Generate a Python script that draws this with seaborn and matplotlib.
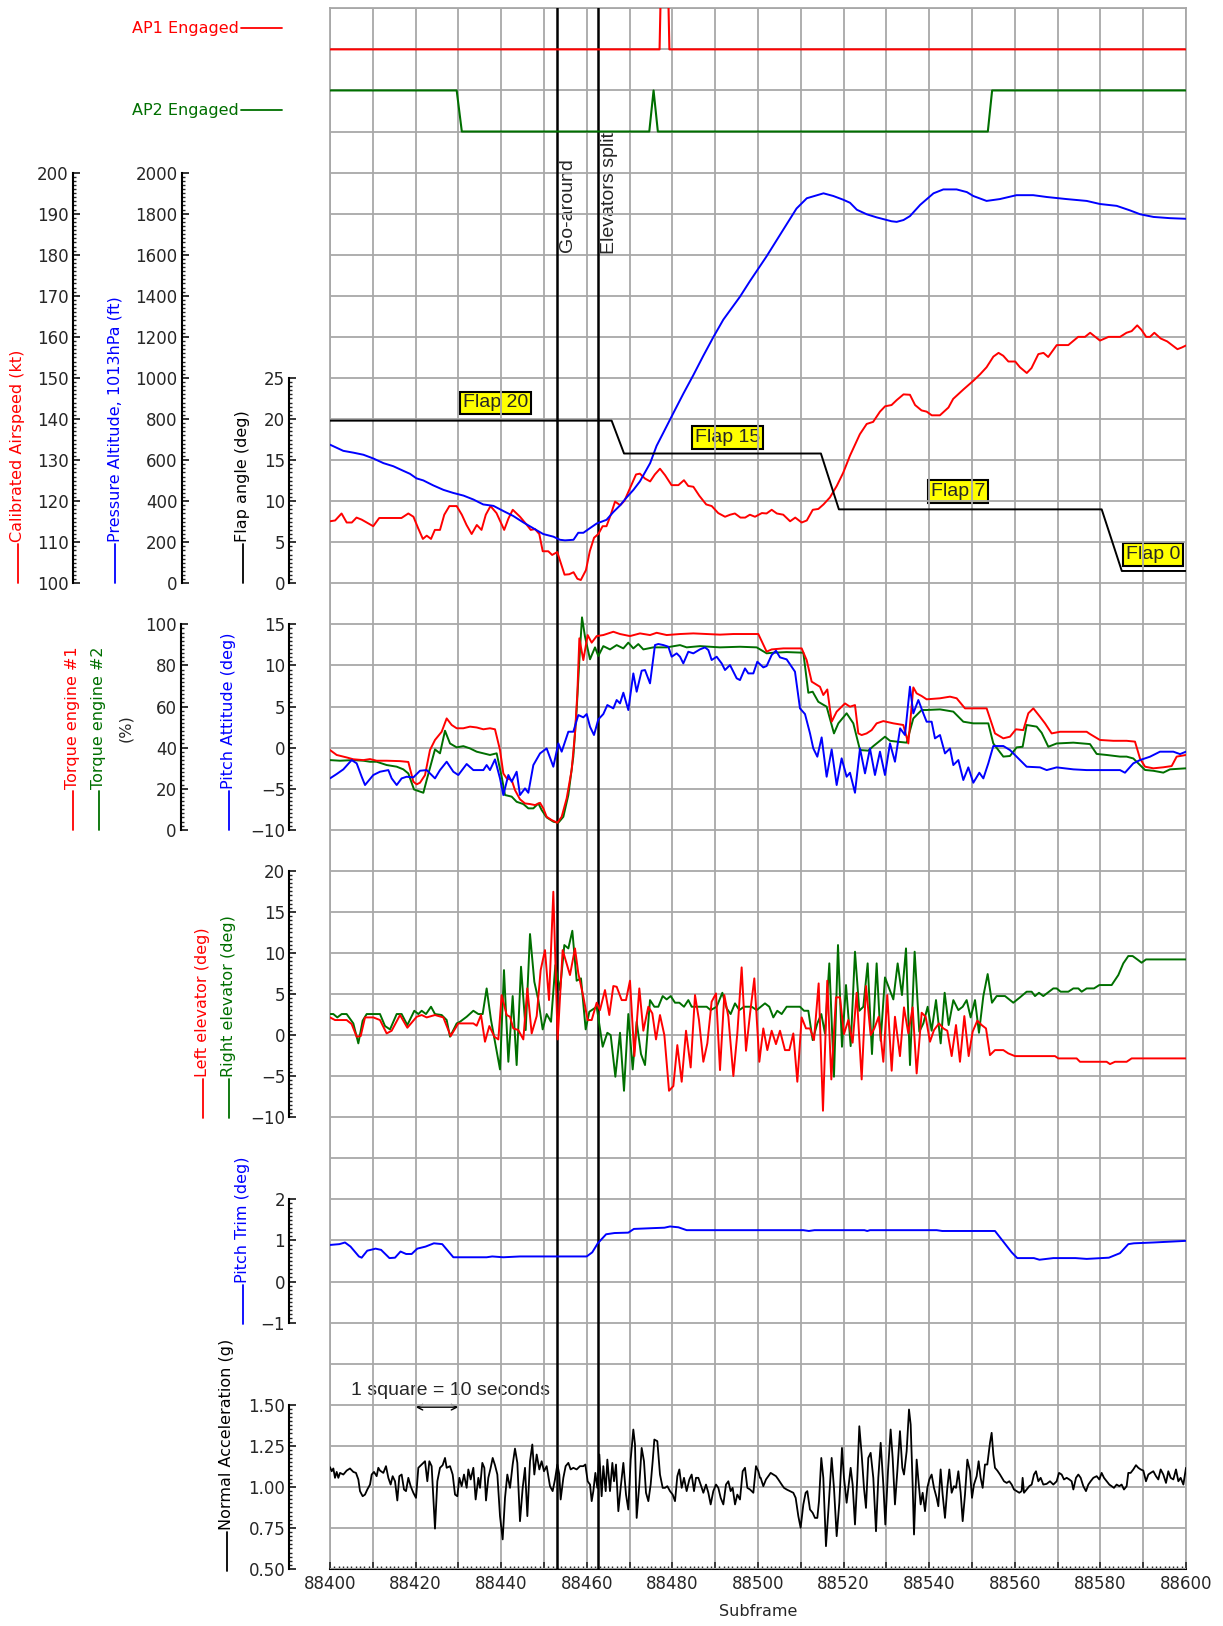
import numpy as np
import matplotlib
matplotlib.use("Agg")
import matplotlib.pyplot as plt
import seaborn as sns
from matplotlib.lines import Line2D
from matplotlib.ticker import FixedLocator, FuncFormatter, MultipleLocator

T0 = 88400  # first subframe on the x axis, offsets below are from here

# autopilot discretes
ap1_off = [0, 77.0, 77.3, 79.0, 79.3, 200]
ap1_val = [0, 0, 1, 1, 0, 0]
ap2_off = [0, 29.6, 30.8, 74.6, 75.6, 76.6, 153.7, 154.7, 200]
ap2_val = [1, 1, 0, 0, 1, 0, 0, 1, 1]

# calibrated airspeed (kt)
cas_off = [0.0, 1.2, 2.7, 3.9, 5.1, 6.2, 7.4, 8.6, 10.1, 11.5, 13.2, 16.7, 18.3, 19.5, 20.6, 21.7,
           22.6, 23.6, 24.5, 25.7, 26.7, 27.9, 29.6, 30.8, 31.9, 33.1, 34.3, 35.4, 36.4, 37.5, 38.9,
           40.7, 41.7, 42.7, 44.4, 46.0, 46.9, 47.9, 48.9, 49.7, 51.0, 51.9, 53.1, 53.9, 54.8, 55.9,
           56.9, 57.8, 58.6, 59.8, 60.7, 61.7, 62.7, 63.7, 64.6, 65.6, 66.6, 67.8, 68.8, 70.1, 71.5,
           72.4, 73.6, 74.8, 75.9, 77.1, 78.3, 79.8, 81.4, 82.7, 83.7, 84.9, 86.3, 87.9, 89.2, 90.7,
           92.3, 93.5, 94.6, 95.9, 97.0, 98.1, 99.3, 100.9, 102.0, 103.2, 104.4, 105.9, 107.5, 108.7,
           110.2, 111.4, 112.8, 114.1, 115.3, 116.8, 118.4, 119.9, 121.5, 123.8, 125.4, 126.9, 128.5,
           129.7, 131.2, 132.4, 134.0, 135.5, 136.7, 138.2, 139.4, 140.6, 142.5, 144.5, 145.6, 148.0,
           150.3, 151.9, 153.4, 155.0, 156.2, 157.3, 158.5, 160.1, 161.2, 162.8, 163.9, 165.5, 166.7,
           167.8, 169.8, 172.5, 174.8, 176.4, 177.6, 179.9, 181.9, 184.6, 186.1, 187.3, 188.6, 189.6,
           190.7, 191.6, 192.6, 194.1, 195.6, 198.0, 199.0, 200.0]
cas_val = [115.1, 115.3, 117.0, 114.8, 114.8, 116.0, 115.5, 114.8, 113.9, 115.9, 115.9, 115.9, 117.0,
           116.2, 113.4, 110.8, 111.6, 110.8, 113.0, 113.0, 116.7, 118.8, 118.8, 116.7, 114.2, 112.0,
           114.2, 113.0, 116.7, 118.8, 117.1, 113.0, 115.8, 117.9, 116.2, 114.2, 113.0, 113.2, 112.0,
           107.8, 107.8, 106.9, 107.6, 105.0, 102.1, 102.2, 102.7, 101.1, 100.8, 103.2, 107.8, 111.1,
           112.0, 113.9, 113.9, 116.7, 119.9, 119.0, 120.1, 123.2, 126.5, 126.7, 125.5, 124.8, 126.5,
           127.9, 126.3, 123.9, 123.9, 125.1, 123.7, 123.5, 121.3, 119.2, 118.8, 117.1, 116.2, 116.7,
           117.0, 116.0, 116.0, 116.7, 116.2, 117.1, 117.0, 117.9, 117.0, 116.7, 115.1, 116.0, 114.8,
           115.3, 117.9, 118.1, 119.2, 120.9, 123.7, 126.9, 131.1, 136.3, 138.8, 139.3, 141.8, 143.1,
           143.4, 144.6, 146.0, 145.9, 143.4, 142.1, 141.8, 140.9, 140.9, 142.8, 144.9, 147.2, 149.3,
           150.9, 152.6, 155.2, 156.1, 155.4, 154.0, 154.0, 152.6, 151.2, 152.4, 155.8, 156.1, 155.1,
           158.0, 158.0, 160.0, 160.0, 161.0, 159.1, 160.0, 160.0, 161.0, 161.4, 162.8, 161.7, 160.0,
           160.0, 161.0, 159.6, 158.9, 157.0, 157.4, 157.9]

# pressure altitude (ft)
alt_off = [0.0, 3.1, 5.5, 7.8, 10.1, 12.5, 14.8, 17.1, 18.7, 20.2, 21.8, 24.1, 26.5, 28.8, 31.2, 33.5,
           35.8, 38.2, 40.5, 42.8, 45.2, 47.5, 49.8, 52.2, 53.7, 54.9, 56.9, 58.0, 59.2, 60.7, 62.3,
           64.6, 66.2, 67.8, 69.3, 70.9, 72.4, 74.8, 76.3, 77.9, 80.2, 82.6, 84.9, 87.2, 89.6, 91.9,
           94.2, 95.8, 98.1, 102.0, 105.9, 109.0, 111.4, 115.3, 117.6, 119.9, 121.5, 123.1, 125.4,
           127.7, 130.1, 131.2, 132.4, 134.0, 135.5, 137.9, 141.0, 143.3, 146.4, 148.8, 150.3, 153.4,
           156.5, 160.4, 164.3, 167.5, 172.1, 176.8, 179.9, 183.8, 186.9, 189.3, 192.4, 196.3, 200.0]
alt_val = [675, 645, 636, 626, 608, 585, 570, 548, 533, 511, 501, 477, 455, 440, 427, 408, 384, 377,
           352, 328, 296, 268, 240, 227, 212, 209, 212, 246, 246, 268, 291, 309, 347, 380, 418, 455,
           496, 585, 669, 734, 828, 925, 1014, 1107, 1200, 1284, 1350, 1396, 1471, 1592, 1722, 1825,
           1875, 1899, 1886, 1868, 1853, 1819, 1797, 1782, 1769, 1763, 1760, 1769, 1788, 1843, 1899,
           1918, 1918, 1905, 1886, 1862, 1871, 1890, 1890, 1881, 1871, 1862, 1847, 1838, 1816, 1797,
           1784, 1778, 1775]

# flap angle (deg)
flap_off = [0, 65.8, 68.7, 114.7, 118.9, 180.3, 185.0, 200]
flap_val = [19.8, 19.8, 15.8, 15.8, 9.0, 9.0, 1.5, 1.5]
flap_tags = ["Flap 20", "Flap 15", "Flap 7", "Flap 0"]
flap_tag_off = [38.7, 92.8, 146.7, 192.3]
flap_tag_val = [21.95, 17.7, 11.14, 3.55]

# torque engine #1 (%)
tq1_off = [0, 1.56, 3.89, 5.45, 7.79, 9.35, 10.9, 13.24, 16.36, 18.3, 19.47, 20.25, 21.03, 22.2, 23.36,
           24.53, 26.09, 27.26, 28.43, 29.6, 31.15, 32.71, 34.27, 35.83, 37.38, 38.55, 39.72, 40.5,
           41.28, 42.45, 43.22, 44.39, 45.56, 46.73, 47.9, 49.07, 49.84, 50.62, 51.79, 53.12, 54.13,
           55.3, 56.46, 57.24, 57.79, 58.26, 59.19, 60.2, 61.14, 62.31, 63.86, 66.2, 67.76, 70.09,
           72.43, 74.77, 76.32, 78.66, 81.78, 84.89, 88.01, 91.12, 94.24, 97.35,
           100.07, 102.02, 103.19, 105.92, 110.2, 111.37, 112.54, 114.48, 115.26, 116.19, 117.21,
           118.38, 120.32, 121.49, 122.66, 123.44, 124.22, 125.38, 126.55, 127.72, 129.28, 131.62,
           133.95, 135.12, 136.29, 137.07, 138.24, 139.4, 142.52, 144.86, 146.42, 148.36, 151.87,
           153.42, 155.37, 157.32, 158.87, 160.27, 161.99, 163.16, 164.33, 165.89, 167.06, 168.61,
           170.56, 173.68, 176.79, 177.57, 179.9, 183.02, 186.13, 188.08, 189.25, 190.42, 192.37,
           194.7, 196.65, 197.82, 200.0]
tq1_val = [38.8, 36.4, 35.2, 34.3, 33.9, 34.4, 33.6, 33.6, 33.4, 33.0, 23.4, 22.1, 22.9, 26.6, 38.8,
           43.7, 47.7, 54.2, 51.0, 49.4, 49.4, 50.2, 49.8, 48.9, 49.4, 48.9, 38.8, 27.4, 25.0, 24.2,
           19.3, 14.8, 12.8, 12.5, 12.0, 13.1, 10.4, 6.3, 4.7, 3.4, 6.3, 15.3, 29.1, 46.9, 66.4, 93.2,
           82.6, 94.8, 91.1, 94.3, 94.8, 96.4, 95.3, 94.3, 95.6, 94.8, 95.9, 94.8, 95.3, 95.6, 95.3,
           95.0, 95.3, 95.3,
           95.3, 86.7, 87.8, 88.3, 88.3, 82.6, 72.1, 69.6, 65.6, 68.3, 52.6, 57.5, 61.5, 59.9, 60.7,
           46.9, 46.1, 46.9, 48.5, 51.8, 52.9, 51.8, 51.0, 42.0, 69.3, 66.4, 65.1, 63.5, 64.0, 64.8,
           64.0, 59.1, 59.1, 59.1, 46.9, 44.5, 45.3, 48.9, 48.5, 56.7, 59.1, 55.0, 51.8, 46.9, 47.7,
           47.7, 47.7, 46.6, 43.7, 43.3, 43.3, 42.9, 34.7, 30.7, 29.9, 30.4, 31.0, 35.6, 36.4]

# torque engine #2 (%)
tq2_off = [0, 2.34, 5.45, 7.79, 9.35, 10.9, 13.24, 15.58, 17.13, 18.3, 19.63, 21.81, 22.59, 24.53,
           25.7, 26.87, 28.04, 29.6, 31.15, 32.71, 34.27, 35.83, 37.38, 38.94, 40.11, 40.89, 42.45,
           43.61, 45.17, 46.34, 47.51, 48.68, 49.45, 50.62, 52.18, 53.35, 54.52, 55.69, 56.85, 57.63,
           58.26, 58.88, 59.58, 60.75, 61.92, 62.69, 63.86, 65.42, 66.98, 68.54, 69.7, 70.87, 72.04,
           73.21, 75.55, 78.66, 81.78, 83.33, 86.45, 91.12, 95.79,
           99.69, 102.02, 103.58, 106.69, 110.59, 111.76, 112.77, 114.09, 116.04, 117.75, 118.77,
           120.71, 122.27, 123.83, 125.77, 126.94, 129.67, 130.84, 132.4, 134.73, 136.29, 138.24,
           139.4, 142.52, 145.64, 147.97, 150.31, 153.81, 154.98, 157.32, 158.87, 160.43, 161.83,
           162.77, 165.11, 166.28, 167.83, 169.78, 173.68, 177.57, 179.13, 181.46, 184.58, 186.13,
           187.69, 189.25, 190.42, 192.37, 194.7, 196.26, 200.0]
tq2_val = [33.9, 33.6, 33.9, 33.6, 33.1, 33.1, 31.5, 30.7, 29.4, 27.4, 19.6, 18.0, 24.2, 39.1, 37.2,
           48.2, 42.0, 40.1, 40.7, 39.6, 38.0, 37.2, 36.4, 37.2, 25.8, 16.9, 16.1, 13.6, 12.5, 10.4,
           10.4, 12.8, 9.6, 6.0, 3.9, 3.4, 6.3, 16.9, 35.6, 58.3, 82.6, 103.4, 94.0, 83.0, 88.8, 84.6,
           89.4, 87.8, 89.9, 88.3, 91.1, 88.3, 90.4, 87.8, 88.8, 88.8, 89.9, 88.8, 89.4, 88.8, 89.1,
           88.8, 85.9, 86.2, 86.5, 86.2, 66.7, 67.2, 62.3, 59.9, 46.9, 51.8, 56.7, 51.8, 38.8, 38.5,
           40.7, 45.3, 43.3, 42.9, 42.4, 54.2, 58.3, 58.3, 58.6, 57.5, 52.6, 51.8, 51.8, 42.0, 35.6,
           35.9, 40.1, 40.4, 51.0, 50.2, 47.2, 40.4, 42.0, 42.4, 41.7, 36.9, 36.4, 35.6, 35.6, 34.7,
           31.5, 29.1, 28.7, 27.8, 29.4, 29.9]

# pitch attitude (deg)
pitch_off = [0, 1.56, 3.12, 5.06, 6.23, 7.40, 8.18, 10.12, 11.68, 13.63, 14.41, 15.58, 16.74, 17.91,
             19.47, 21.03, 22.59, 24.53, 25.70, 27.26, 28.82, 29.98, 31.93, 33.49, 35.83, 36.60, 37.38,
             38.55, 39.72, 40.50, 41.67, 42.45, 43.61, 44.39, 45.56, 46.34, 47.51, 49.07, 50.62, 52.18,
             53.35, 54.13, 55.69, 56.85, 58.02, 59.19, 59.97, 60.75, 61.68, 62.69, 63.86, 64.80, 66.20,
             66.98, 67.76, 68.54, 69.70, 70.87, 71.65, 72.82, 73.60, 74.77, 75.93, 76.71, 77.88, 79.05,
             79.83, 81.00, 81.78, 82.55, 83.72, 84.89, 86.45, 87.62, 88.40, 89.17, 90.34, 91.51, 92.29,
             93.46, 95.02, 95.79, 96.96, 97.74, 98.91, 99.84,
             101.24, 102.02, 103.19, 104.20, 105.14, 106.69, 107.86, 108.64, 109.81, 110.98, 112.15,
             112.92, 113.86, 114.87, 116.04, 117.21, 118.38, 119.54, 120.71, 121.49, 122.66, 123.83,
             125.00, 126.16, 127.33, 128.50, 129.67, 130.84, 132.00, 133.20, 134.34, 135.50, 136.29,
             137.46, 138.63, 139.40, 140.57, 141.35, 142.52, 143.69, 144.86, 145.64, 146.81, 147.97,
             149.14, 150.31, 151.71, 152.65, 153.81, 154.98, 157.32, 158.87, 160.43, 162.77, 165.89,
             167.45, 169.78, 173.68, 176.79, 181.46, 184.58, 185.74, 187.69, 189.25, 191.59, 193.92,
             197.04, 198.60, 200.0]
pitch_val = [-3.75, -3.22, -2.65, -1.52, -1.92, -3.55, -4.56, -3.34, -2.94, -2.74, -3.75, -4.56,
             -3.75, -3.55, -3.63, -2.82, -2.74, -3.75, -2.74, -1.72, -2.94, -3.34, -2.00, -2.74,
             -2.74, -2.13, -2.74, -1.44, -3.75, -5.78, -3.34, -4.16, -2.94, -5.78, -4.97, -5.50,
             -2.13, -0.71, -0.10, -2.33, 0.51, -0.50, 1.93, 1.93, 3.96, 3.68, 4.08, 2.54, 1.53, 3.43,
             4.08, 5.18, 4.77, 5.79, 5.38, 6.68, 4.57, 9.03, 6.80, 9.36, 9.44, 7.82, 12.48, 12.61,
             12.48, 12.28, 11.06, 11.47, 11.06, 10.25, 11.67, 11.47, 11.96, 12.20, 11.87, 10.66,
             11.06, 10.25, 9.44, 10.05, 8.43, 8.22, 9.64, 9.03, 9.03, 10.45,
             9.76, 9.93, 11.27, 11.79, 10.98, 10.74, 9.85, 9.24, 4.77, 4.08, 1.73, -0.10, -1.11, 1.24,
             -3.55, -0.22, -4.56, -1.31, -3.55, -3.06, -5.50, -0.10, -3.14, -0.10, -3.34, -0.50,
             -3.34, 0.51, -1.72, 2.34, 1.53, 7.41, 4.16, 5.79, 4.16, 3.15, 3.15, 1.12, 1.53, -0.71,
             -0.10, -2.13, -1.52, -3.95, -2.41, -4.28, -3.06, -3.75, -1.92, 0.19, 0.19, -0.30, -1.11,
             -2.33, -2.41, -2.74, -2.41, -2.65, -2.74, -2.74, -2.74, -3.06, -1.92, -1.52, -1.11,
             -0.50, -0.50, -0.79, -0.50]

# left elevator (deg)
lelev_off = [0, 1.17, 3.89, 5.06, 6.23, 7.17, 8.18, 10.12, 11.68, 13.24, 14.41, 16.36, 18.07, 20.25,
             21.42, 22.59, 24.53, 26.48, 28.19, 29.98, 33.49, 34.27, 35.28, 36.21, 37.23, 38.40, 39.33,
             40.11, 41.28, 42.06, 42.83, 44.00, 45.17, 46.11, 47.12, 48.29, 49.22, 50.23, 51.17, 52.18,
             53.19, 54.36, 56.07, 57.24, 58.02, 59.19, 60.20, 61.14, 62.31, 63.08, 64.25, 65.26, 66.20,
             66.98, 68.15, 69.16, 70.09, 71.11, 72.27, 73.21, 74.38, 75.31, 76.17, 77.10, 78.12, 79.21,
             80.22, 81.15, 82.17, 83.18, 84.27, 85.28, 86.21, 87.23, 88.16, 89.17, 90.19, 91.12, 92.13,
             93.07, 94.24, 95.17, 96.18, 97.20, 98.13, 99.14, 100.31,
             101.24, 102.18, 103.19, 104.20, 105.14, 106.30, 107.32, 108.25, 109.19, 110.20, 111.21,
             112.15, 113.08, 114.17, 115.18, 116.19, 117.13, 118.22, 119.15, 120.09, 121.10, 122.11,
             123.05, 124.22, 125.23, 126.32, 127.18, 128.19, 129.28, 130.21, 131.23, 132.00, 133.17,
             134.11, 135.12, 136.13, 137.07, 138.24, 139.17, 140.18, 141.12, 142.29, 143.30, 144.23,
             145.25, 146.26, 147.19, 148.21, 149.22, 150.15, 151.24, 152.26, 153.27, 154.20, 155.37,
             157.32, 158.48, 160.04, 169.39, 170.17, 174.45, 175.23, 181.46, 182.24, 183.41, 186.13,
             187.30, 200.0]
lelev_val = [2.15, 1.83, 1.83, 1.34, -0.20, -0.12, 2.15, 2.15, 1.83, 0.20, 0.53, 2.44, 0.89, 2.23,
             2.44, 2.15, 2.44, 2.15, -0.12, 1.42, 1.42, 1.14, 2.44, -0.81, 1.10, -0.20, -0.53, 4.87,
             2.44, 2.23, 0.81, 0.61, -0.53, 5.68, 0.20, 2.31, 7.91, 10.35, 4.26, 17.45, -0.53, 10.35,
             7.31, 10.55, 7.51, 4.67, 1.83, 1.83, 3.94, 3.04, 5.48, 2.44, 5.97, 5.88, 4.26, 4.26, 6.62,
             -2.56, 5.68, 0.53, 3.45, 2.64, -0.53, 2.44, 0.00, -6.78, -6.21, -1.22, -5.68, 0.53,
             -3.94, 4.87, 1.83, -3.25, -1.01, 4.06, 5.07, -4.26, 4.87, 2.23, -4.99, 0.20, 8.24, -1.91,
             2.56, 6.90, -3.25,
             0.81, -1.83, 0.53, -1.10, 0.53, -1.83, -1.83, 0.20, -5.68, 2.15, 0.81, 0.81, -0.61,
             6.29, -9.21, 6.62, -5.40, 4.59, 4.59, 0.12, 1.83, -0.93, 5.15, -5.40, 5.97, 0.00, 0.81,
             2.23, -3.25, 4.87, -4.34, 2.23, -2.56, 3.37, 0.20, 3.37, -4.67, 2.72, 2.23, -0.81, 0.61,
             1.42, 0.81, 0.53, -2.56, 1.22, -3.25, 2.31, -2.56, 0.41, 1.75, 1.22, 0.81, -2.44, -1.83,
             -1.83, -2.23, -2.56, -2.56, -2.84, -2.84, -3.25, -3.25, -3.53, -3.25, -3.25, -2.84, -2.84]

# right elevator (deg)
relev_off = [0, 0.78, 1.71, 2.73, 3.89, 5.45, 6.62, 7.63, 8.57, 11.68, 12.85, 14.02, 15.58, 16.74,
             18.07, 19.70, 20.64, 21.42, 22.43, 23.60, 24.53, 26.09, 27.26, 28.04, 29.60, 30.37, 31.93,
             33.49, 34.66, 35.67, 36.60, 37.62, 38.55, 39.72, 40.65, 41.67, 42.68, 43.61, 44.63, 45.72,
             46.73, 47.74, 48.68, 49.69, 50.62, 51.64, 52.65, 53.74, 54.75, 55.69, 56.62, 57.63, 58.64,
             59.74, 60.59, 62.31, 63.71, 64.80, 65.58, 66.67, 67.76, 68.69, 69.70, 70.72, 71.65, 72.66,
             73.60, 74.77, 75.78, 76.71, 77.73, 78.66, 79.60, 80.61, 81.62, 82.71, 83.72, 84.50, 85.67,
             88.01, 88.94, 90.34, 91.67, 92.68, 93.61, 94.63, 95.64, 96.73,
             98.52, 99.69, 101.63, 102.64, 103.58, 104.51, 105.53, 106.69, 109.81, 110.75, 111.76,
             112.77, 113.86, 114.79, 115.65, 116.66, 117.75, 118.69, 119.62, 120.56, 121.65, 122.66,
             123.67, 124.61, 125.62, 126.63, 127.72, 128.66, 129.67, 131.62, 132.63, 133.64, 134.58,
             135.51, 136.60, 137.69, 138.63, 139.64, 140.57, 141.59, 142.68, 143.61, 144.55, 145.64,
             146.81, 147.82, 148.75, 149.69, 150.70, 151.63, 152.65, 153.66, 154.67, 155.76, 157.71,
             159.65, 161.21, 162.77, 163.94, 164.72, 165.65, 166.66, 169.00, 169.78, 170.71, 172.51,
             173.68, 174.84, 175.62, 176.79, 178.50, 179.75, 182.63, 184.19, 185.35, 186.52, 187.53,
             188.62, 189.63, 190.65, 200.0]
relev_val = [2.56, 2.56, 2.15, 2.56, 2.56, 1.42, -1.01, 1.75, 2.56, 2.56, 1.10, 0.69, 2.56, 2.56, 1.22,
             2.96, 2.56, 2.96, 2.56, 3.45, 2.56, 2.44, 1.83, -0.20, 1.42, 1.62, 2.23, 2.96, 2.56, 2.56,
             5.68, 1.83, -0.81, -4.18, 7.91, -3.25, 4.75, -3.65, 8.32, 0.61, 12.30, 6.49, 4.26, 0.69,
             2.56, 1.62, 8.52, 5.48, 10.96, 10.55, 12.70, 6.62, 6.90, 0.69, 2.84, 3.45, -1.42, 0.28,
             0.00, -5.07, 0.28, -6.78, 2.56, -4.18, 1.62, -2.31, -3.65, 4.26, 3.45, 3.45, 4.75, 4.34,
             4.75, 3.94, 3.94, 3.45, 4.26, 3.45, 3.45, 3.45, 3.04, 3.45, 5.15, 3.25, 2.56, 3.86, 3.04,
             3.45,
             3.45, 3.04, 3.86, 3.45, 2.15, 2.96, 2.56, 3.45, 3.45, 2.96, 2.96, -0.61, 1.42, 2.56, 0.20,
             8.73, -5.07, 10.96, -1.42, 6.09, -1.34, 10.15, 2.96, 3.45, 8.73, -2.31, 8.73, -0.69, 7.02,
             4.34, 8.73, 4.87, 10.55, -3.65, 10.15, 0.41, 1.42, 3.45, 0.53, 4.26, -1.01, 5.15, 1.22,
             4.26, 3.04, 3.45, 4.26, 2.15, 4.26, 0.28, 4.75, 7.43, 3.94, 4.75, 4.75, 3.94, 4.59, 5.28,
             5.28, 4.75, 5.15, 4.75, 5.68, 5.68, 5.28, 5.28, 5.68, 5.68, 5.28, 5.68, 5.68, 6.09, 6.09,
             7.31, 8.73, 9.62, 9.62, 9.21, 8.81, 9.21, 9.21]

# pitch trim (deg)
trim_off = [0, 2.21, 3.50, 4.80, 6.75, 7.40, 8.70, 10.64, 11.94, 13.89, 15.19, 16.48, 17.78, 19.08,
            20.38, 22.33, 24.27, 26.22, 28.82, 36.60, 37.90, 40.50, 44.39, 59.97, 61.27, 62.57, 64.51,
            66.46, 69.70, 71.00, 75.55, 78.14, 79.44, 81.39, 83.33, 88.53, 110.59, 111.89, 113.19,
            124.87, 125.52, 126.17, 141.75, 143.04, 155.37, 157.32, 159.27, 160.57, 164.46, 165.76,
            169.00, 174.19, 176.79, 181.98, 184.58, 186.53, 187.82, 192.37, 196.26, 200.0]
trim_val = [0.89, 0.91, 0.95, 0.85, 0.61, 0.58, 0.75, 0.80, 0.77, 0.57, 0.58, 0.73, 0.67, 0.67, 0.80,
            0.85, 0.93, 0.91, 0.59, 0.59, 0.61, 0.59, 0.61, 0.61, 0.71, 0.93, 1.15, 1.18, 1.19, 1.28,
            1.30, 1.31, 1.34, 1.32, 1.25, 1.25, 1.25, 1.23, 1.25, 1.25, 1.23, 1.25, 1.25, 1.23, 1.23,
            0.97, 0.71, 0.57, 0.57, 0.53, 0.57, 0.57, 0.55, 0.58, 0.69, 0.91, 0.93, 0.95, 0.97, 0.99]

# normal acceleration (g)
nz_off = [0.00, 0.39, 0.78, 1.17, 1.56, 1.95, 2.34, 3.12, 3.89, 4.67, 5.45, 6.07, 6.62, 7.01, 7.63,
          8.18, 8.72, 9.35, 9.74, 10.28, 10.90, 11.29, 11.68, 12.46, 13.08, 13.63, 14.17, 14.64, 15.19,
          15.73, 16.20, 16.74, 17.29, 17.76, 18.30, 18.85, 19.47, 20.09, 20.64, 21.42, 22.20, 22.74,
          23.21, 23.75, 24.53, 25.08, 25.70, 26.32, 26.87, 27.26, 28.04, 28.66, 29.21, 29.75, 30.22,
          30.76, 31.31, 31.93, 32.32, 32.87, 33.49, 34.03, 34.66, 35.05, 35.59, 36.06, 36.45, 36.99,
          37.54, 38.01, 38.55, 39.10, 39.72, 40.34, 40.89, 41.43, 42.06, 42.68, 43.22, 43.77, 44.39,
          45.02, 45.56, 46.11, 46.73, 47.27, 47.74, 48.29, 48.91, 49.45, 50.00, 50.62, 51.40, 52.02,
          52.57, 53.12, 53.58, 53.89, 54.52, 55.06, 55.69, 56.23, 56.85, 57.63, 58.41, 59.19, 59.66,
          60.20, 60.75, 61.14, 61.53, 62.00, 62.46, 62.93, 63.47, 63.86, 64.41, 64.80, 65.42, 65.97,
          66.36, 66.82, 67.37, 67.91, 68.54, 69.16, 69.70, 70.25, 70.87, 71.26, 71.65, 72.27, 72.82,
          73.36, 73.83, 74.38, 74.92, 75.39, 75.78, 76.48, 77.10, 77.73, 78.27, 78.82, 79.44, 80.06,
          80.61, 81.15, 81.62, 82.17, 82.71, 83.33, 83.96, 84.50, 85.05, 85.51, 86.06, 86.60, 87.23,
          87.85, 88.40, 88.94, 89.56, 90.19, 90.73, 91.28, 91.90, 92.52, 93.07, 93.61, 94.08, 94.63,
          95.17, 95.79, 96.42, 96.96, 97.51, 98.13, 98.91, 99.53, 100.08, 100.47,
          100.62, 101.24, 101.87, 102.41, 102.96, 103.58, 104.20, 104.75, 105.53, 106.07, 106.69,
          107.47, 108.25, 108.80, 109.42, 109.96, 110.59, 111.13, 111.52, 112.15, 112.77, 113.31,
          113.86, 114.25, 114.79, 115.26, 115.88, 116.43, 117.21, 117.75, 118.38, 119.00, 119.62,
          120.09, 120.71, 121.65, 122.11, 122.66, 123.20, 123.67, 124.22, 124.76, 125.23, 125.77,
          126.32, 126.94, 127.57, 128.11, 128.66, 129.28, 129.75, 130.37, 130.99, 131.46, 132.00,
          132.55, 133.17, 133.72, 134.11, 134.73, 135.28, 135.67, 136.13, 136.45, 137.07, 137.46,
          138.00, 138.47, 139.02, 139.56, 140.03, 140.57, 141.12, 141.74, 142.13, 142.67, 143.14,
          143.69, 144.23, 144.70, 145.25, 145.79, 146.26, 146.81, 147.35, 147.82, 148.36, 148.91,
          149.53, 150.00, 150.46, 151.09, 151.55, 152.02, 152.49, 153.03, 153.58, 154.20, 154.59,
          154.98, 155.37, 155.92, 156.54, 157.01, 157.48, 158.10, 158.72, 159.27, 159.81, 160.43,
          161.05, 161.60, 161.83, 162.15, 162.77, 163.39, 163.94, 164.48, 164.95, 165.50, 166.04,
          166.66, 167.44, 168.22, 169.00, 169.78, 170.33, 170.95, 171.49, 172.12, 172.74, 173.28,
          173.68, 174.30, 174.84, 175.39, 176.01, 176.63, 177.18, 177.72, 178.35, 179.13, 179.75,
          180.29, 180.84, 181.46, 182.08, 182.63, 183.17, 183.79, 184.42, 184.96, 185.51, 186.13,
          186.52, 187.07, 187.69, 188.31, 188.86, 189.41, 190.03, 190.65, 191.20, 191.74, 192.37,
          192.99, 193.53, 194.08, 194.70, 195.33, 195.87, 196.42, 197.04, 197.66, 198.21, 198.75,
          199.38, 200.00]
nz_val = [1.120, 1.095, 1.112, 1.055, 1.091, 1.055, 1.085, 1.075, 1.099, 1.112, 1.091, 1.085, 1.045,
          0.974, 0.943, 0.953, 0.984, 1.014, 1.075, 1.091, 1.065, 1.116, 1.099, 1.085, 1.126, 1.055,
          1.014, 1.065, 1.034, 0.917, 1.065, 1.075, 0.984, 0.974, 1.055, 1.004, 0.964, 0.933, 1.116,
          1.136, 1.156, 1.034, 1.156, 1.126, 0.746, 1.034, 1.116, 1.132, 1.176, 1.116, 1.126, 1.075,
          0.953, 0.943, 1.055, 1.004, 1.075, 0.994, 1.106, 1.045, 1.116, 0.923, 1.055, 0.994, 1.146,
          1.116, 0.917, 1.055, 1.116, 1.176, 1.132, 1.075, 0.822, 0.680, 0.933, 1.075, 0.994, 1.136,
          1.233, 1.146, 0.791, 0.994, 1.116, 0.822, 1.156, 1.258, 1.075, 1.197, 1.106, 1.156, 1.095,
          1.126, 1.004, 0.974, 1.045, 1.136, 1.075, 0.923, 1.055, 1.126, 1.146, 1.106, 1.116, 1.106,
          1.126, 1.126, 1.136, 1.034, 1.014, 0.913, 0.974, 1.085, 0.994, 1.197, 0.943, 1.126, 0.974,
          1.166, 0.974, 1.146, 1.034, 1.136, 0.852, 0.994, 1.146, 0.953, 0.862, 1.166, 1.349, 1.258,
          0.811, 1.014, 1.237, 1.156, 0.964, 0.913, 1.014, 1.156, 1.288, 1.278, 1.075, 0.994, 0.994,
          1.004, 0.974, 0.953, 0.913, 1.065, 1.106, 0.994, 1.055, 0.974, 1.045, 1.075, 0.974, 1.055,
          1.055, 1.014, 0.964, 1.014, 0.964, 0.893, 0.974, 1.014, 0.994, 0.933, 0.893, 1.014, 1.034,
          0.974, 0.994, 0.893, 0.953, 0.923, 1.095, 1.116, 0.994, 0.984, 0.964, 1.126, 1.095, 1.055,
          1.055, 1.004, 1.045, 1.065, 1.085, 1.075, 1.065, 1.045, 1.014, 0.994, 0.984, 0.974, 0.964,
          0.933, 0.822, 0.751, 0.893, 0.964, 0.974, 0.862, 0.842, 0.811, 0.811, 0.913, 1.176, 1.055,
          0.639, 0.852, 1.176, 0.994, 0.700, 0.903, 1.237, 1.055, 0.903, 1.116, 1.014, 0.771, 1.055,
          1.369, 1.197, 0.994, 0.872, 1.176, 1.207, 1.055, 0.730, 1.055, 1.268, 1.014, 0.771, 1.095,
          1.349, 1.176, 0.893, 1.095, 1.339, 1.116, 1.075, 1.217, 1.471, 1.379, 1.014, 0.710, 1.166,
          1.045, 0.893, 0.964, 0.852, 0.994, 1.045, 1.075, 0.994, 0.933, 0.882, 1.106, 0.953, 0.811,
          0.994, 1.106, 0.964, 1.004, 0.994, 1.095, 0.964, 0.791, 0.953, 1.166, 1.095, 0.933, 1.014,
          1.065, 1.156, 1.055, 0.994, 1.136, 1.136, 1.268, 1.329, 1.197, 1.116, 1.099, 1.075, 1.055,
          1.034, 1.024, 1.034, 1.014, 0.984, 0.974, 0.964, 0.974, 1.055, 0.964, 0.984, 1.004, 1.014,
          1.075, 1.095, 1.034, 1.055, 1.014, 1.018, 1.034, 1.014, 1.034, 1.085, 1.075, 1.045, 1.055,
          1.045, 1.034, 0.984, 1.055, 1.075, 1.055, 1.004, 0.974, 1.014, 1.034, 1.055, 1.065, 1.045,
          1.085, 1.055, 1.034, 1.014, 1.004, 0.994, 1.014, 1.004, 1.014, 0.984, 1.004, 1.085, 1.085,
          1.106, 1.132, 1.116, 1.106, 1.099, 1.034, 1.075, 1.085, 1.095, 1.065, 1.045, 1.106, 1.075,
          1.024, 1.095, 1.055, 1.045, 1.106, 1.034, 1.055, 1.014, 1.116]

# event markers
go_around = 88453.0
elev_split = 88462.7

RED, GREEN, BLUE, BLACK = "#ff0000", "#006f00", "#0000ff", "#000000"
GRID = "#a8a8a8"

sns.set_style("white")
plt.rcParams['font.family'] = ['DejaVu Sans']
ANNOT_FONT = ['Liberation Sans', 'DejaVu Sans']
TICK_SIZE = 12

W, H = 1223, 1626
fig = plt.figure(figsize=(W / 100, H / 100), dpi=100)
NROWS = 38
L, R, TOP, BOT = 330, 1186, 8.3, 1569
pos = [L / W, 1 - BOT / H, (R - L) / W, (BOT - TOP) / H]

# base axes: grid squares and the subframe axis
ax = fig.add_axes(pos)
ax.set_xlim(T0, T0 + 200)
ax.set_ylim(NROWS, 0)
ax.set_yticks(range(NROWS + 1))
ax.tick_params(axis="y", left=False, labelleft=False)
ax.xaxis.set_major_locator(MultipleLocator(10))
ax.xaxis.set_minor_locator(MultipleLocator(1))
ax.xaxis.set_major_formatter(FuncFormatter(lambda v, _: f"{v:.0f}" if round(v) % 20 == 0 else ""))
ax.tick_params(axis="x", which="major", bottom=True, direction="in", length=5, width=1.2,
               labelsize=TICK_SIZE, pad=4)
ax.tick_params(axis="x", which="minor", bottom=True, direction="in", length=2.5, width=1)
ax.set_xlabel("Subframe", fontsize=11.5, labelpad=8)
ax.set_axisbelow(False)
ax.grid(True, color=GRID, lw=1.3)
for side in ("top", "left", "right"):
    ax.spines[side].set_color(GRID)
    ax.spines[side].set_linewidth(1.3)
ax.spines["bottom"].set_color(BLACK)
ax.spines["bottom"].set_linewidth(1.5)


def rows_to_lim(val, row, per_row):
    # value `val` sits on grid row `row`, each square is `per_row` units tall
    return (val - (NROWS - row) * per_row, val + row * per_row)


def param_axis(ylim, spine_at=None, bounds=None, major=None, minor=None, fmt="{:g}"):
    p = fig.add_axes(pos, sharex=ax)
    p.patch.set_visible(False)
    p.set_ylim(*ylim)
    p.xaxis.set_visible(False)
    for side in ("top", "right", "bottom"):
        p.spines[side].set_visible(False)
    if spine_at is None:
        p.spines["left"].set_visible(False)
        p.set_yticks([])
        return p
    sp = p.spines["left"]
    sp.set_position(("axes", spine_at))
    sp.set_bounds(*bounds)
    sp.set_linewidth(1.5)
    sp.set_color(BLACK)
    lo, hi = bounds
    p.yaxis.set_major_locator(FixedLocator(np.arange(lo, hi + major / 2, major)))
    p.yaxis.set_minor_locator(FixedLocator(np.arange(lo, hi + minor / 2, minor)))
    p.yaxis.set_major_formatter(FuncFormatter(lambda v, _: fmt.format(v).replace("-", "\u2212")))
    p.tick_params(axis="y", which="major", left=True, direction="in", length=5, width=1.3,
                  labelsize=TICK_SIZE, pad=3)
    p.tick_params(axis="y", which="minor", left=True, direction="in", length=2.5, width=1)
    return p


def trace(p, off, val, color, lw=1.4):
    sns.lineplot(x=T0 + np.asarray(off), y=np.asarray(val), ax=p, color=color, linewidth=lw,
                 estimator=None, sort=False, legend=False)


ap1_ax = param_axis(rows_to_lim(0, 1, 2 / 3))
ap2_ax = param_axis(rows_to_lim(0, 3, 1))
cas_ax = param_axis(rows_to_lim(100, 14, 10), -0.3006, (100, 200), 10, 1)
alt_ax = param_axis(rows_to_lim(0, 14, 200), -0.1733, (0, 2000), 200, 20)
flap_ax = param_axis(rows_to_lim(0, 14, 5), -0.0475, (0, 25), 5, 0.5)
tq_ax = param_axis(rows_to_lim(0, 20, 20), -0.1741, (0, 100), 20, 2)
pitch_ax = param_axis(rows_to_lim(-10, 20, 5), -0.0475, (-10, 15), 5, 0.5)
elev_ax = param_axis(rows_to_lim(-10, 27, 5), -0.0475, (-10, 20), 5, 0.5)
trim_ax = param_axis(rows_to_lim(-1, 32, 1), -0.0475, (-1, 2), 1, 0.1)
nz_ax = param_axis(rows_to_lim(0.5, 38, 0.25), -0.0475, (0.5, 1.5), 0.25, 0.025, fmt="{:.2f}")

trace(ap1_ax, ap1_off, ap1_val, RED, 1.5)
trace(ap2_ax, ap2_off, ap2_val, GREEN, 1.5)
trace(flap_ax, flap_off, flap_val, BLACK)
trace(alt_ax, alt_off, alt_val, BLUE)
trace(cas_ax, cas_off, cas_val, RED)
trace(pitch_ax, pitch_off, pitch_val, BLUE)
trace(tq_ax, tq2_off, tq2_val, GREEN)
trace(tq_ax, tq1_off, tq1_val, RED)
trace(elev_ax, relev_off, relev_val, GREEN)
trace(elev_ax, lelev_off, lelev_val, RED)
trace(trim_ax, trim_off, trim_val, BLUE)
trace(nz_ax, nz_off, nz_val, BLACK, 1.3)

# event lines and their captions
for x_ev in (go_around, elev_split):
    ax.axvline(x_ev, color=BLACK, lw=1.8, zorder=3)
ax.text(88455.6, 5.93, "Go-around", rotation=90, ha="center", va="bottom", fontsize=14,
        family=ANNOT_FONT, zorder=1)
ax.text(88465.4, 5.98, "Elevators split", rotation=90, ha="center", va="bottom", fontsize=14,
        family=ANNOT_FONT, zorder=1)

# flap setting tags (grid shows through them like the original)
for tag, xo, yv in zip(flap_tags, flap_tag_off, flap_tag_val):
    ax.text(T0 + xo, yv, tag, transform=flap_ax.transData, ha="center", va="center",
            fontsize=14, family=ANNOT_FONT, zorder=1,
            bbox=dict(boxstyle="square,pad=0.15", fc="yellow", ec=BLACK, lw=1.5))

# scale hint
ax.text(88428.2, 33.66, "1 square = 10 seconds", ha="center", va="center", fontsize=14,
        family=ANNOT_FONT, zorder=1)
ax.annotate("", xy=(88430, 34.06), xytext=(88420, 34.06),
            arrowprops=dict(arrowstyle="<->", lw=1.0, color=BLACK, shrinkA=0, shrinkB=0), zorder=1)


def side_label(x, y, text, color, dash=True):
    fx, fy = x / W, 1 - y / H
    if dash:
        fig.add_artist(Line2D([fx, fx], [fy, fy + 39 / H], color=color, lw=1.3))
        fy += 41 / H
    fig.text(fx, fy, text, color=color, rotation=90, ha="center", va="bottom", fontsize=11.5)


side_label(18, 583, "Calibrated Airspeed (kt)", RED)
side_label(115, 583, "Pressure Altitude, 1013hPa (ft)", BLUE)
side_label(242.7, 583, "Flap angle (deg)", BLACK)
side_label(72.7, 830, "Torque engine #1", RED)
side_label(99, 830, "Torque engine #2", GREEN)
fig.text(126 / W, 1 - 728 / H, "(%)", rotation=90, ha="center", va="center", fontsize=11.5)
side_label(229, 830, "Pitch Attitude (deg)", BLUE)
side_label(202.7, 1118, "Left elevator (deg)", RED)
side_label(229, 1118, "Right elevator (deg)", GREEN)
side_label(242.7, 1324, "Pitch Trim (deg)", BLUE)
side_label(226.7, 1571, "Normal Acceleration (g)", BLACK)

# autopilot labels
for y_px, name, color in ((28, "AP1 Engaged", RED), (110, "AP2 Engaged", GREEN)):
    fig.text(239 / W, 1 - y_px / H, name, ha="right", va="center", color=color, fontsize=11.5)
    fig.add_artist(Line2D([241 / W, 282 / W], [1 - y_px / H, 1 - y_px / H], color=color, lw=1.3))

fig.savefig("out.png", dpi=100)
plt.close(fig)
